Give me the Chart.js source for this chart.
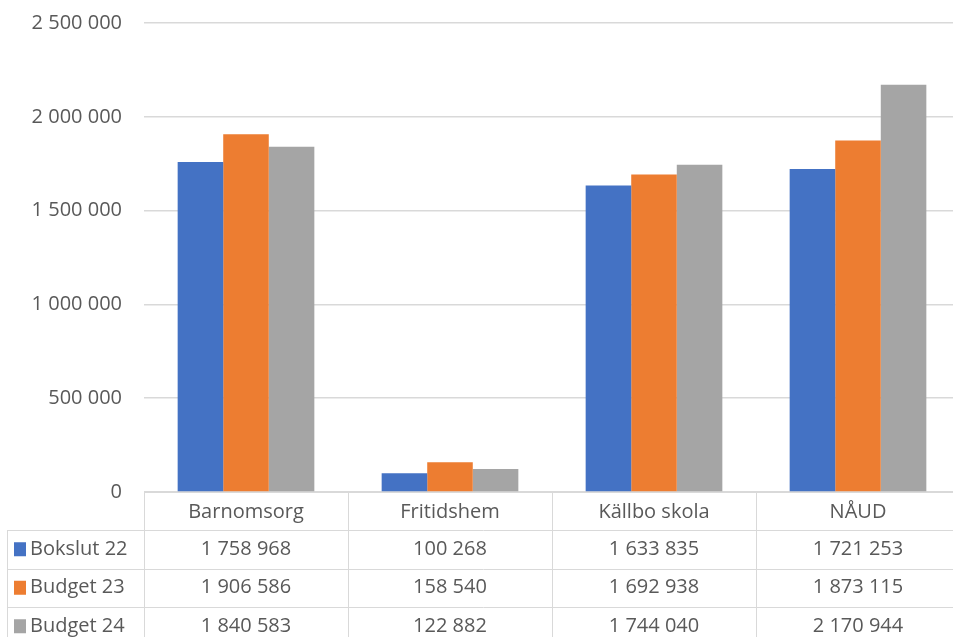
<!DOCTYPE html>
<html>
<head>
<meta charset="utf-8">
<script src="https://cdn.jsdelivr.net/npm/chart.js@4"></script>
<style>
  html, body { margin: 0; padding: 0; background: #fff; overflow: hidden; }
  #wrap { width: 953px; height: 637px; overflow: hidden; }
</style>
</head>
<body>
<div id="wrap"><canvas id="myChart" width="960" height="637"></canvas></div>
<script>
const categories = ['Barnomsorg', 'Fritidshem', 'Källbo skola', 'NÅUD'];
const seriesNames = ['Bokslut 22', 'Budget 23', 'Budget 24'];
const bokslut22 = [1758968, 100268, 1633835, 1721253];
const budget23 = [1906586, 158540, 1692938, 1873115];
const budget24 = [1840583, 122882, 1744040, 2170944];
const colors = ['#4472C4', '#ED7D31', '#A5A5A5'];
const yTicks = [0, 500000, 1000000, 1500000, 2000000, 2500000];

const FONT = '"Open Sans", sans-serif';
const TEXT = '#595959';
const LINE = '#D9D9D9';

function fmt(n) {
    return String(n).replace(/\B(?=(\d{3})+(?!\d))/g, ' ');
}

// draws the data table under the plot
const dataTable = {
    id: 'dataTable',
    afterDraw(chart) {
        const ctx = chart.ctx;
        const area = chart.chartArea;
        const x = chart.scales.x;
        const top = area.bottom;
        const headerBottom = top + 38;
        const rowH = 38.5;
        const leftX = 7;
        const right = chart.width;
        const bounds = [];
        for (let i = 0; i <= categories.length; i++) {
            bounds.push(Math.round(area.left + i * (area.right - area.left) / categories.length) + 0.5);
        }

        ctx.save();
        ctx.strokeStyle = LINE;
        ctx.lineWidth = 1;
        ctx.beginPath();
        // header top
        ctx.moveTo(area.left, top + 0.5);
        ctx.lineTo(right, top + 0.5);
        // row lines
        for (let r = 0; r < seriesNames.length; r++) {
            const y = Math.round(headerBottom + r * rowH) + 0.5;
            ctx.moveTo(leftX, y);
            ctx.lineTo(right, y);
        }
        // verticals
        bounds.forEach(b => {
            ctx.moveTo(b, top);
            ctx.lineTo(b, chart.height);
        });
        ctx.moveTo(leftX + 0.5, headerBottom);
        ctx.lineTo(leftX + 0.5, chart.height);
        ctx.stroke();

        ctx.font = '20px ' + FONT;
        ctx.fillStyle = TEXT;
        ctx.textAlign = 'center';
        ctx.textBaseline = 'middle';
        categories.forEach((c, i) => {
            const cx = x.getPixelForValue(i);
            ctx.fillText(c, cx, top + 20);
        });

        chart.data.datasets.forEach((ds, r) => {
            const cy = headerBottom + r * rowH + rowH / 2;
            ctx.fillStyle = ds.backgroundColor;
            ctx.fillRect(14, cy - 7, 12, 14);
            ctx.fillStyle = TEXT;
            ctx.textAlign = 'left';
            ctx.fillText(ds.label, 30, cy);
            ctx.textAlign = 'center';
            ds.data.forEach((v, i) => {
                ctx.fillText(fmt(v), x.getPixelForValue(i), cy);
            });
        });
        ctx.restore();
    }
};

new Chart(document.getElementById('myChart'), {
    type: 'bar',
    data: {
        labels: categories,
        datasets: [
            { label: seriesNames[0], data: bokslut22, backgroundColor: colors[0] },
            { label: seriesNames[1], data: budget23, backgroundColor: colors[1] },
            { label: seriesNames[2], data: budget24, backgroundColor: colors[2] }
        ]
    },
    options: {
        responsive: false,
        animation: false,
        layout: { padding: { top: 23, bottom: 145, right: 0, left: 0 } },
        datasets: {
            bar: { barPercentage: 1, categoryPercentage: 0.67 }
        },
        plugins: {
            legend: { display: false },
            tooltip: { enabled: false }
        },
        scales: {
            x: {
                display: false
            },
            y: {
                min: 0,
                max: 2500000,
                afterFit(scale) {
                    scale.width = 144;
                    scale.paddingTop = 0;
                    scale.paddingBottom = 0;
                },
                afterBuildTicks(scale) { scale.ticks = yTicks.map(v => ({ value: v })); },
                border: { display: false },
                grid: {
                    color: LINE,
                    lineWidth: 1.5,
                    drawTicks: false
                },
                ticks: {
                    padding: 22,
                    color: TEXT,
                    font: { family: FONT, size: 20 },
                    callback: v => fmt(v)
                }
            }
        }
    },
    plugins: [dataTable]
});
</script>
</body>
</html>
